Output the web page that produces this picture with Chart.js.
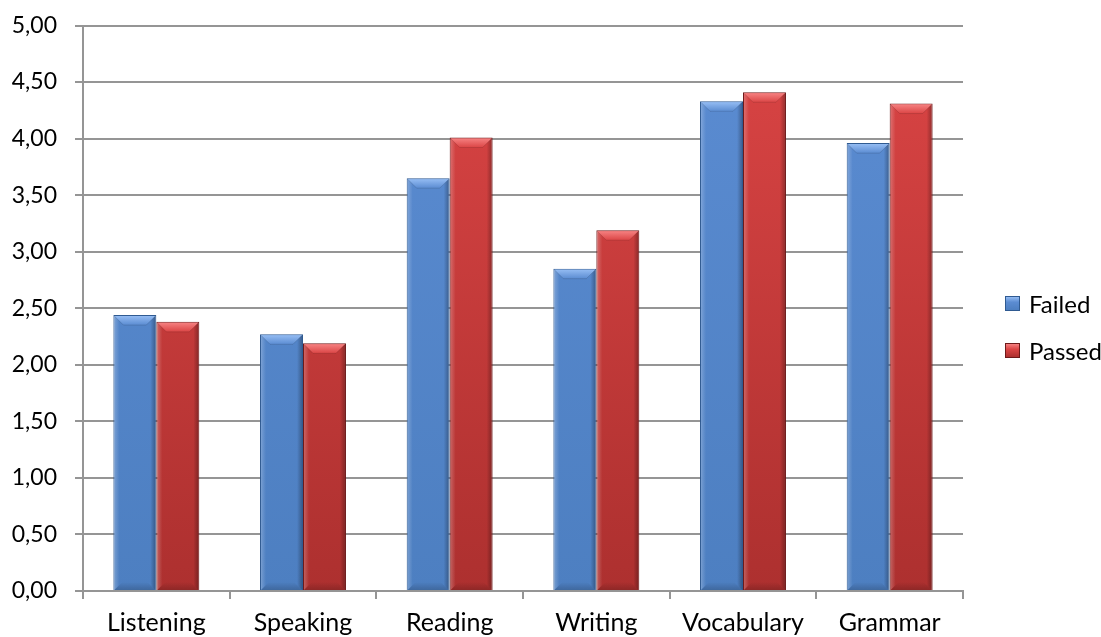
<!DOCTYPE html>
<html>
<head>
<meta charset="utf-8">
<script src="https://cdn.jsdelivr.net/npm/chart.js@4"></script>
<style>
  html, body { margin: 0; padding: 0; background: #fff; }
  #wrap { position: relative; width: 1101px; height: 637px; }
  #legend { position: absolute; left: 1005px; top: 288px; font-family: Lato, sans-serif; font-size: 24px; color: #000; }
  #legend .item { display: flex; align-items: center; height: 30px; margin-bottom: 17px; }
  #legend .box { width: 13px; height: 13px; margin-right: 9px; border: 1px solid; box-sizing: content-box; }
</style>
</head>
<body>
<div id="wrap">
  <canvas id="c" width="1101" height="637"></canvas>
  <div id="legend"></div>
</div>
<script>
// Mean scores per skill
const categories = ['Listening', 'Speaking', 'Reading', 'Writing', 'Vocabulary', 'Grammar'];
const failedScores = [2.44, 2.27, 3.65, 2.85, 4.33, 3.96];
const passedScores = [2.38, 2.19, 4.01, 3.19, 4.41, 4.31];
const seriesNames = ['Failed', 'Passed'];

const palette = {
  Failed: { top: '#5b8cd2', bottom: '#4d7fc1', border: '#2f5a91', light: '#93bbf2', dark: '#3a6aa8' },
  Passed: { top: '#db4545', bottom: '#ad302f', border: '#6e1a1a', light: '#f58080', dark: '#8f2424' }
};

function verticalFill(name) {
  return (ctx) => {
    const area = ctx.chart.chartArea;
    if (!area) return palette[name].top;
    const g = ctx.chart.ctx.createLinearGradient(0, area.top, 0, area.bottom);
    g.addColorStop(0, palette[name].top);
    g.addColorStop(1, palette[name].bottom);
    return g;
  };
}

// Bevelled edges drawn over each bar from its element geometry
const bevel = {
  id: 'bevel',
  afterDatasetsDraw(chart) {
    const c = chart.ctx;
    chart.data.datasets.forEach((ds, i) => {
      const p = palette[ds.label];
      chart.getDatasetMeta(i).data.forEach((bar) => {
        const { x, y, width, base } = bar.getProps(['x', 'y', 'width', 'base'], true);
        const L = x - width / 2 + 1, R = x + width / 2 - 1, T = y + 1, B = base;
        const b = Math.min(9, (B - T) / 2);
        c.save();
        // top face
        let g = c.createLinearGradient(0, T, 0, T + b);
        g.addColorStop(0, p.light);
        g.addColorStop(1, p.top);
        c.fillStyle = g;
        c.beginPath();
        c.moveTo(L, T); c.lineTo(R, T); c.lineTo(R - b, T + b); c.lineTo(L + b, T + b); c.closePath();
        c.fill();
        c.strokeStyle = 'rgba(0,0,0,0.12)';
        c.lineWidth = 1;
        c.beginPath();
        c.moveTo(L, T); c.lineTo(L + b, T + b); c.lineTo(R - b, T + b); c.lineTo(R, T);
        c.stroke();
        // right face
        g = c.createLinearGradient(R - 5, 0, R, 0);
        g.addColorStop(0, 'rgba(0,0,0,0)');
        g.addColorStop(1, 'rgba(0,0,0,0.28)');
        c.fillStyle = g;
        c.beginPath();
        c.moveTo(R, T); c.lineTo(R, B); c.lineTo(R - 5, B - 5); c.lineTo(R - 5, T + 5); c.closePath();
        c.fill();
        // left face
        g = c.createLinearGradient(L, 0, L + 5, 0);
        g.addColorStop(0, 'rgba(255,255,255,0.22)');
        g.addColorStop(1, 'rgba(255,255,255,0)');
        c.fillStyle = g;
        c.beginPath();
        c.moveTo(L, T); c.lineTo(L + 5, T + 5); c.lineTo(L + 5, B - 5); c.lineTo(L, B); c.closePath();
        c.fill();
        // bottom face
        g = c.createLinearGradient(0, B - 8, 0, B);
        g.addColorStop(0, 'rgba(0,0,0,0)');
        g.addColorStop(1, 'rgba(0,0,0,0.18)');
        c.fillStyle = g;
        c.beginPath();
        c.moveTo(L, B); c.lineTo(R, B); c.lineTo(R - 8, B - 8); c.lineTo(L + 8, B - 8); c.closePath();
        c.fill();
        c.restore();
      });
    });
  }
};

const chart = new Chart(document.getElementById('c'), {
  type: 'bar',
  data: {
    labels: categories,
    datasets: [
      { label: seriesNames[0], data: failedScores, backgroundColor: verticalFill('Failed'), borderColor: palette.Failed.border, borderWidth: 1 },
      { label: seriesNames[1], data: passedScores, backgroundColor: verticalFill('Passed'), borderColor: palette.Passed.border, borderWidth: 1 }
    ]
  },
  options: {
    responsive: false,
    animation: false,
    datasets: { bar: { barPercentage: 1, categoryPercentage: 0.586 } },
    layout: { padding: { top: 25.5, right: 138, bottom: 1.5, left: 0 } },
    plugins: { legend: { display: false }, tooltip: { enabled: false } },
    scales: {
      x: {
        afterFit: (s) => { s.height = 44.5; },
        grid: { display: true, drawOnChartArea: false, offset: true, color: '#959595', lineWidth: 2, tickLength: 8 },
        border: { color: '#959595', width: 2 },
        ticks: { color: '#000', padding: 11.5, font: { family: 'Lato', size: 25, lineHeight: 1.0 } }
      },
      y: {
        min: 0, max: 5,
        afterFit: (s) => { s.width = 83; s.paddingTop = 0; s.paddingBottom = 0; },
        grid: { color: '#959595', lineWidth: 2, tickLength: 8 },
        border: { color: '#959595', width: 2 },
        ticks: {
          stepSize: 0.5, color: '#000', padding: 18,
          font: { family: 'Lato', size: 23 },
          callback: (v) => Number(v).toFixed(2).replace('.', ',')
        }
      }
    }
  },
  plugins: [bevel]
});

// Legend built from the chart's datasets
const legend = document.getElementById('legend');
chart.data.datasets.forEach((ds) => {
  const p = palette[ds.label];
  const item = document.createElement('div');
  item.className = 'item';
  const box = document.createElement('span');
  box.className = 'box';
  box.style.background = `linear-gradient(${p.light}, ${p.top} 40%, ${p.bottom})`;
  box.style.borderColor = p.border;
  const text = document.createElement('span');
  text.textContent = ds.label;
  item.appendChild(box);
  item.appendChild(text);
  legend.appendChild(item);
});
</script>
</body>
</html>
